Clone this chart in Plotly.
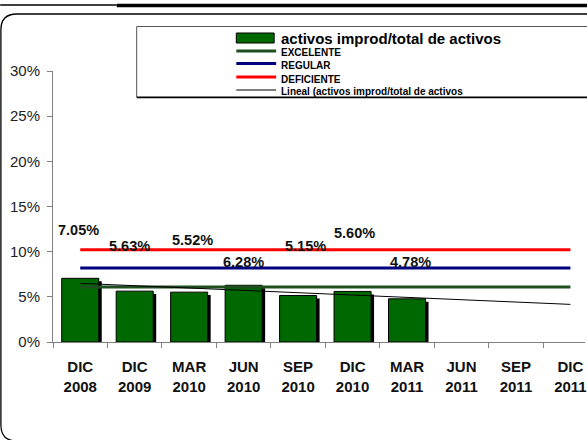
import numpy as np
import plotly.graph_objects as go

# ---------------- data ----------------
categorias = ["DIC<br>2008", "DIC<br>2009", "MAR<br>2010", "JUN<br>2010", "SEP<br>2010",
              "DIC<br>2010", "MAR<br>2011", "JUN<br>2011", "SEP<br>2011", "DIC<br>2011"]
activos_improd = [7.05, 5.63, 5.52, 6.28, 5.15, 5.60, 4.78]
excelente = [6.1] * 10
regular = [8.2] * 10
deficiente = [10.2] * 10
y_ticks = [0, 5, 10, 15, 20, 25, 30]
y_ticktext = ["0%", "5%", "10%", "15%", "20%", "25%", "30%"]

# label offsets (pixels) for the data labels, as placed in the original
label_dx = [-2, -5, 3, 0, 7, 2, 3]
label_dy = [48, 45, 52, 23, 49, 58, 37]

# ---------------- geometry ----------------
W, H = 587, 440
ML, MR, MT, MB = 53, 0, 71, 98
PW, PH = W - ML - MR, H - MT - MB
CAT_W = 54.67
XMAX = -0.5 + PW / CAT_W

def px(xp):
    return (xp - ML) / PW

def py(yp):
    return (H - MB - yp) / PH

FONT = "Liberation Sans, Arial, sans-serif"
GREEN_BAR = "#006800"
GREEN_LINE = "#1f4e1f"

n_bars = len(activos_improd)
xb = categorias[:n_bars]

fig = go.Figure()

# bar shadow (3D effect)
fig.add_trace(go.Bar(
    x=xb, y=activos_improd, base=-0.33,
    width=0.68, offset=-0.34 + 3 / CAT_W,
    marker=dict(color="#000000", line=dict(width=0)),
    showlegend=False, hoverinfo="skip"))

# bars
fig.add_trace(go.Bar(
    x=xb, y=activos_improd, name="activos improd/total de activos",
    width=0.68, offset=-0.34,
    marker=dict(color=GREEN_BAR, line=dict(color="#000000", width=1)),
    showlegend=False))

# reference lines
fig.add_trace(go.Scatter(x=categorias, y=excelente, name="EXCELENTE", mode="lines",
                         line=dict(color=GREEN_LINE, width=3), showlegend=False))
fig.add_trace(go.Scatter(x=categorias, y=regular, name="REGULAR", mode="lines",
                         line=dict(color="#000080", width=3), showlegend=False))
fig.add_trace(go.Scatter(x=categorias, y=deficiente, name="DEFICIENTE", mode="lines",
                         line=dict(color="#ff0000", width=3), showlegend=False))

# linear trend line (Excel "Lineal")
coef = np.polyfit(np.arange(n_bars), activos_improd, 1)
trend = np.polyval(coef, np.arange(len(categorias)))
fig.add_trace(go.Scatter(x=categorias, y=trend,
                         name="Lineal (activos improd/total de activos)", mode="lines",
                         line=dict(color="#000000", width=1), showlegend=False))

annotations = []
for i, v in enumerate(activos_improd):
    annotations.append(dict(
        x=categorias[i], y=v, xref="x", yref="y", text=f"{v:.2f}%",
        showarrow=False, xshift=label_dx[i], yshift=label_dy[i],
        font=dict(family=FONT, size=14.5, color="#111111", weight="bold")))

# ---------------- manual legend ----------------
shapes = []
shapes.append(dict(type="rect", xref="paper", yref="paper",
                   x0=px(137), x1=px(600), y0=py(97), y1=py(26.5),
                   line=dict(color="#555555", width=1), fillcolor="rgba(0,0,0,0)"))
shapes.append(dict(type="line", xref="paper", yref="paper",
                   x0=px(137), x1=px(600), y0=py(97.5), y1=py(97.5),
                   line=dict(color="#000000", width=1.5)))
shapes.append(dict(type="rect", xref="paper", yref="paper",
                   x0=px(237), x1=px(275), y0=py(43), y1=py(33),
                   line=dict(color="#000000", width=1), fillcolor=GREEN_BAR))
leg_lines = [(51, GREEN_LINE, 3), (63.5, "#000080", 3), (77, "#ff0000", 3), (90, "#000000", 1)]
for yy, c, w in leg_lines:
    shapes.append(dict(type="line", xref="paper", yref="paper",
                       x0=px(237), x1=px(277), y0=py(yy), y1=py(yy),
                       line=dict(color=c, width=w)))
leg_texts = [(38.5, "activos improd/total de activos", 15),
             (52.7, "EXCELENTE", 10), (65.7, "REGULAR", 10), (79, "DEFICIENTE", 10),
             (91.7, "Lineal (activos improd/total de activos", 10)]
for yy, t, s in leg_texts:
    annotations.append(dict(x=px(280), y=py(yy), xref="paper", yref="paper", text=t,
                            showarrow=False, xanchor="left", yanchor="middle",
                            font=dict(family=FONT, size=s, color="#000000", weight="bold")))

# ---------------- frame decorations ----------------
shapes.append(dict(type="line", xref="paper", yref="paper",
                   x0=px(0), x1=px(117), y0=py(5), y1=py(5),
                   line=dict(color="#000000", width=1.5)))
shapes.append(dict(type="line", xref="paper", yref="paper",
                   x0=px(117), x1=px(600), y0=py(5.5), y1=py(5.5),
                   line=dict(color="#000000", width=3.5)))
r = 16
path = (f"M {px(600)},{py(14)} L {px(0.7 + r)},{py(14)} "
        f"Q {px(0.7)},{py(14)} {px(0.7)},{py(14 + r)} "
        f"L {px(0.7)},{py(441 - r)} Q {px(0.7)},{py(441)} {px(0.7 + r)},{py(441)} "
        f"L {px(600)},{py(441)}")
shapes.append(dict(type="path", xref="paper", yref="paper", path=path,
                   line=dict(color="#000000", width=1.3)))

fig.update_layout(
    width=W, height=H, autosize=False,
    margin=dict(l=ML, r=MR, t=MT, b=MB, pad=0),
    paper_bgcolor="#ffffff", plot_bgcolor="#ffffff",
    barmode="overlay", showlegend=False,
    shapes=shapes, annotations=annotations,
    xaxis=dict(type="category", categoryorder="array", categoryarray=categorias,
               range=[-0.5, XMAX], showgrid=False, zeroline=False,
               showline=True, linecolor="#808080", linewidth=1,
               ticks="outside", ticklen=5, tickcolor="#808080", tickson="boundaries",
               tickfont=dict(family=FONT, size=15, color="#111111", weight="bold"),
               ticklabelstandoff=11),
    yaxis=dict(range=[0, 30], tickmode="array", tickvals=y_ticks, ticktext=y_ticktext,
               showgrid=False, zeroline=False, showline=True, linecolor="#808080",
               linewidth=1, ticks="outside", ticklen=5, tickcolor="#808080",
               tickfont=dict(family=FONT, size=15, color="#222222"),
               ticklabelstandoff=4),
)

fig.write_html("out.html", config={"displayModeBar": False},
               post_script="document.body.style.margin='0';document.body.style.overflow='hidden';")
